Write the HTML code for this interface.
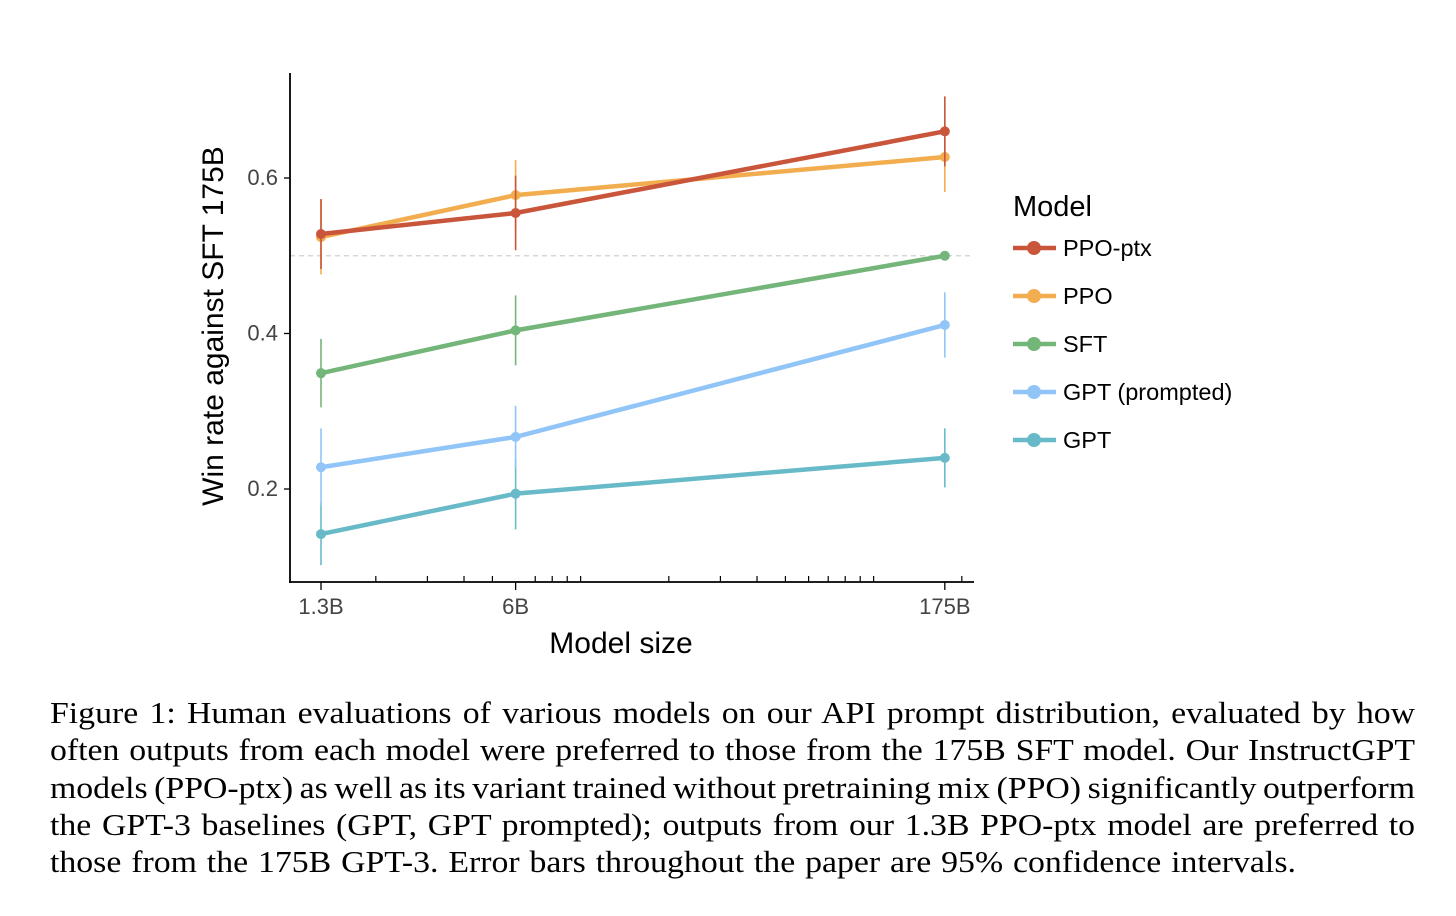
<!DOCTYPE html>
<html><head><meta charset="utf-8"><style>
body{margin:0;background:#fff;width:1456px;height:916px;overflow:hidden;position:relative}
svg text{font-family:"Liberation Sans",Arial,sans-serif}
#cap{position:absolute;left:50px;top:695px;width:1232px;font-family:"Liberation Serif",serif;font-size:30.5px;line-height:37.3px;color:#000;transform:scaleX(1.108);transform-origin:0 0}
#cap span{display:block;text-align:justify;text-align-last:justify;white-space:nowrap}
#cap span.tight{word-spacing:-2.3px}
#cap span.last{text-align-last:left;word-spacing:1.3px}
</style></head><body>
<svg id="chart" width="1456" height="690" style="position:absolute;left:0;top:0"></svg>
<div id="cap"><span>Figure 1: Human evaluations of various models on our API prompt distribution, evaluated by how</span><span>often outputs from each model were preferred to those from the 175B SFT model. Our InstructGPT</span><span class="tight">models (PPO-ptx) as well as its variant trained without pretraining mix (PPO) significantly outperform</span><span>the GPT-3 baselines (GPT, GPT prompted); outputs from our 1.3B PPO-ptx model are preferred to</span><span class="last">those from the 175B GPT-3. Error bars throughout the paper are 95% confidence intervals.</span></div>
<script>
const sizes=[1.3,6,175];
const sizeLabels=["1.3B","6B","175B"];
const seriesNames=["PPO-ptx","PPO","SFT","GPT (prompted)","GPT"];
const seriesColors=["#c9553b","#f2ad4f","#74b57a","#92c5f7","#68bac9"];
const ppoPtx=[0.528,0.555,0.660];
const ppo=[0.524,0.578,0.627];
const sft=[0.349,0.404,0.500];
const gptPrompted=[0.228,0.267,0.411];
const gpt=[0.142,0.194,0.240];
const errPpoPtx=[0.045,0.048,0.045];
const errPpo=[0.048,0.045,0.045];
const errSft=[0.044,0.045,0.0];
const errGptPrompted=[0.05,0.04,0.042];
const errGpt=[0.04,0.046,0.038];
const yTicks=[0.2,0.4,0.6];
const minorTicks=[2,3,4,5,7,8,9,10,20,30,40,50,60,70,80,90,100,200];
const all=[ppoPtx,ppo,sft,gptPrompted,gpt];
const errs=[errPpoPtx,errPpo,errSft,errGptPrompted,errGpt];
const NS="http://www.w3.org/2000/svg";
const svg=document.getElementById('chart');
const X=v=>321+(Math.log10(v)-Math.log10(1.3))*293;
const Y=v=>178+(0.6-v)*777.5;
function mk(t,a,p){const e=document.createElementNS(NS,t);for(const k in a)e.setAttribute(k,a[k]);(p||svg).appendChild(e);return e;}
let rl=mk('line',{x1:290,x2:973,y1:Y(0.5),y2:Y(0.5),stroke:'#d0d0d0','stroke-width':1.2,'stroke-dasharray':'5,4'});


let ya=mk('line',{x1:290,x2:290,y1:73,y2:583,stroke:'#000','stroke-width':1.8});


let xa=mk('line',{x1:289,x2:974,y1:582,y2:582,stroke:'#000','stroke-width':1.8});


yTicks.forEach(t=>{
 let l=mk('line',{x1:284,x2:290,y1:Y(t),y2:Y(t),stroke:'#000','stroke-width':1.3});
 
 
 let tx=mk('text',{x:278,y:Y(t)+7,'text-anchor':'end','font-size':22,fill:'#444'});tx.textContent=t.toFixed(1);
 
 
});
sizes.forEach((s,i)=>{
 let l=mk('line',{x1:X(s),x2:X(s),y1:582,y2:590,stroke:'#000','stroke-width':1.3});
 
 
 let tx=mk('text',{x:X(s),y:614,'text-anchor':'middle','font-size':22,fill:'#444'});tx.textContent=sizeLabels[i];
 
 
});
minorTicks.forEach(s=>{
 let l=mk('line',{x1:X(s),x2:X(s),y1:576,y2:582,stroke:'#000','stroke-width':1.2});
 
 
});
let xt=mk('text',{x:621,y:653,'text-anchor':'middle','font-size':30,fill:'#000'});xt.textContent='Model size';


let yt=mk('text',{x:0,y:0,'text-anchor':'middle','font-size':30,fill:'#000',transform:'translate(223,326) rotate(-90)'});yt.textContent='Win rate against SFT 175B';


for(let k=all.length-1;k>=0;k--){
 const g=mk('g',{});
 
 
 const c=seriesColors[k];
 all[k].forEach((v,i)=>{
  let e=mk('line',{x1:X(sizes[i]),x2:X(sizes[i]),y1:Y(v+errs[k][i]),y2:Y(v-errs[k][i]),stroke:c,'stroke-width':1.6},g);
  
  
 });
 let pl=mk('polyline',{points:all[k].map((v,i)=>X(sizes[i])+','+Y(v)).join(' '),fill:'none',stroke:c,'stroke-width':4.5},g);
 
 
 all[k].forEach((v,i)=>{
  let p=mk('circle',{cx:X(sizes[i]),cy:Y(v),r:5,fill:c},g);
  
  
 });
}
let lt=mk('text',{x:1013,y:216,'font-size':29,fill:'#000'});lt.textContent='Model';


seriesNames.forEach((n,i)=>{
 const y=248+i*48;
 const g=mk('g',{});
 
 
 mk('line',{x1:1013,x2:1056,y1:y,y2:y,stroke:seriesColors[i],'stroke-width':4.5},g);
 mk('circle',{cx:1034,cy:y,r:7,fill:seriesColors[i]},g);
 let t=mk('text',{x:1063,y:y+8,'font-size':23.5,fill:'#000'},g);t.textContent=n;
});
</script>
</body></html>
